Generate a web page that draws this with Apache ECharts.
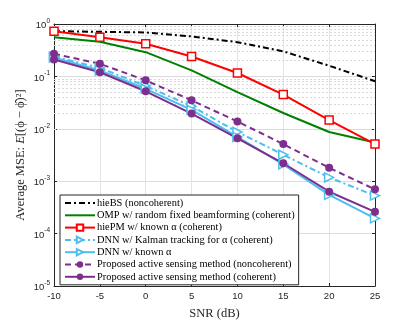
<!DOCTYPE html>
<html>
<head>
<meta charset="utf-8">
<script src="https://cdn.jsdelivr.net/npm/echarts@6/dist/echarts.min.js"></script>
<style>
html, body { margin: 0; padding: 0; background: #fff; }
#chart { width: 415px; height: 325px; }
</style>
</head>
<body>
<div id="chart"></div>
<script>
// SNR points (dB)
const snr = [-10, -5, 0, 5, 10, 15, 20, 25];
// average MSE per method
const hieBS = [0.73, 0.71, 0.69, 0.58, 0.45, 0.30, 0.16, 0.081];
const omp = [0.56, 0.46, 0.29, 0.13, 0.050, 0.020, 0.0087, 0.0055];
const hiePM = [0.73, 0.56, 0.42, 0.24, 0.116, 0.045, 0.0147, 0.0051];
const dnnKalman = [0.24, 0.145, 0.066, 0.027, 0.0087, 0.0032, 0.00118, 0.00053];
const dnnKnown = [0.23, 0.13, 0.058, 0.023, 0.0070, 0.0021, 0.00055, 0.000195];
const propNon = [0.27, 0.174, 0.084, 0.035, 0.0138, 0.0051, 0.0018, 0.0007];
const propCoh = [0.21, 0.12, 0.052, 0.0195, 0.0066, 0.0022, 0.00063, 0.00026];

const names = [
    "hieBS (noncoherent)",
    "OMP w/ random fixed beamforming (coherent)",
    "hiePM w/ known α (coherent)",
    "DNN w/ Kalman tracking for α (coherent)",
    "DNN w/ known α",
    "Proposed active sensing method (noncoherent)",
    "Proposed active sensing method (coherent)"
];

const serif = "'Liberation Serif', 'DejaVu Serif', serif";
const sans = "'Liberation Sans', Arial, sans-serif";
const axisColor = "#262626";

function pairs(ys) {
    return snr.map((x, i) => [x, ys[i]]);
}

// dotted minor grid lines at 2..9 x 10^k
let minorLines = [];
for (let k = -5; k < 0; k++) {
    for (let m = 2; m <= 9; m++) {
        minorLines.push({ yAxis: m * Math.pow(10, k) });
    }
}

function lineSeries(name, ys, color, type, symbol, extra) {
    return Object.assign({
        name: name,
        type: "line",
        data: pairs(ys),
        symbol: symbol || "none",
        symbolSize: 7,
        lineStyle: { color: color, width: 2, type: type },
        itemStyle: { color: color },
        z: 5
    }, extra || {});
}

// legend entries; plain lines get no marker
const legendData = names.map((n, i) => i < 2 ? { name: n, itemStyle: { opacity: 0 } } : { name: n });

const chart = echarts.init(document.getElementById("chart"));
const option = {
    animation: false,
    backgroundColor: "#fff",
    grid: { left: 54, right: 40, top: 24, bottom: 37 },
    xAxis: [
        {
            type: "value",
            min: -10,
            max: 25,
            interval: 5,
            name: "SNR (dB)",
            nameLocation: "middle",
            nameGap: 21,
            nameMoveOverlap: false,
            nameTextStyle: { fontFamily: serif, fontSize: 12.5, color: axisColor },
            axisLine: { show: true, onZero: false, lineStyle: { color: axisColor } },
            axisTick: { inside: true, length: 3, lineStyle: { color: axisColor } },
            axisLabel: { color: axisColor, fontSize: 9.5, fontFamily: sans, margin: 5 },
            splitLine: { show: true, lineStyle: { color: "#e3e3e3" } }
        },
        {
            type: "value",
            position: "top",
            min: -10,
            max: 25,
            interval: 5,
            axisLine: { show: true, onZero: false, lineStyle: { color: axisColor } },
            axisTick: { inside: true, length: 3, lineStyle: { color: axisColor } },
            axisLabel: { show: false },
            splitLine: { show: false }
        }
    ],
    yAxis: [
        {
            type: "log",
            min: 1e-5,
            max: 1,
            logBase: 10,
            name: "Average MSE: {i|E}[(ϕ − ϕ̂)²]",
            nameLocation: "middle",
            nameGap: 27,
            nameMoveOverlap: false,
            nameTextStyle: {
                fontFamily: serif, fontSize: 12.5, color: axisColor,
                rich: { i: { fontFamily: serif, fontSize: 12.5, fontStyle: "italic", color: axisColor } }
            },
            axisLine: { show: true, onZero: false, lineStyle: { color: axisColor } },
            axisTick: { inside: true, length: 3, lineStyle: { color: axisColor } },
            axisLabel: {
                color: axisColor,
                margin: 4,
                formatter: function (v) {
                    return "{b|10}{s|" + Math.round(Math.log10(v)) + "}";
                },
                rich: {
                    b: { fontSize: 9.5, color: axisColor, fontFamily: sans, verticalAlign: "bottom" },
                    s: { fontSize: 6.5, color: axisColor, fontFamily: sans, verticalAlign: "top", padding: [0, 0, 6, 0] }
                }
            },
            splitLine: { show: true, lineStyle: { color: "#dcdcdc" } }
        },
        {
            type: "log",
            min: 1e-5,
            max: 1,
            position: "right",
            axisLine: { show: true, onZero: false, lineStyle: { color: axisColor } },
            axisTick: { inside: true, length: 3, lineStyle: { color: axisColor } },
            axisLabel: { show: false },
            splitLine: { show: false }
        }
    ],
    legend: {
        orient: "vertical",
        left: 60,
        top: 195,
        itemWidth: 30,
        itemHeight: 8,
        itemGap: 2.3,
        padding: [3, 4, 3, 4],
        backgroundColor: "#fff",
        borderColor: axisColor,
        borderWidth: 1,
        borderRadius: 0,
        data: legendData,
        textStyle: { fontFamily: serif, fontSize: 10.4, lineHeight: 10, color: "#000", padding: [0, 0, 0, -3] }
    },
    series: [
        {
            name: "minor",
            type: "line",
            data: [],
            silent: true,
            markLine: {
                silent: true,
                symbol: "none",
                label: { show: false },
                lineStyle: { color: "#d8d8d8", type: [2, 2], width: 1 },
                data: minorLines
            },
            z: 1
        },
        lineSeries(names[0], hieBS, "#000000", [6, 3, 2, 3], "none"),
        lineSeries(names[1], omp, "#008000", "solid", "none"),
        lineSeries(names[2], hiePM, "#ff0000", "solid", "rect", {
            symbolSize: 8,
            itemStyle: { color: "#fff", borderColor: "#ff0000", borderWidth: 1.5 }
        }),
        lineSeries(names[3], dnnKalman, "#4dbeee", [6, 3, 2, 3], "triangle", {
            symbolSize: 9,
            symbolRotate: -90,
            itemStyle: { color: "#fff", borderColor: "#4dbeee", borderWidth: 1.5 }
        }),
        lineSeries(names[4], dnnKnown, "#4dbeee", "solid", "triangle", {
            symbolSize: 9,
            symbolRotate: -90,
            itemStyle: { color: "#fff", borderColor: "#4dbeee", borderWidth: 1.5 }
        }),
        lineSeries(names[5], propNon, "#7e2f8e", [6, 4], "circle", { symbolSize: 8 }),
        lineSeries(names[6], propCoh, "#7e2f8e", "solid", "circle", { symbolSize: 8 })
    ]
};
chart.setOption(option);
</script>
</body>
</html>
